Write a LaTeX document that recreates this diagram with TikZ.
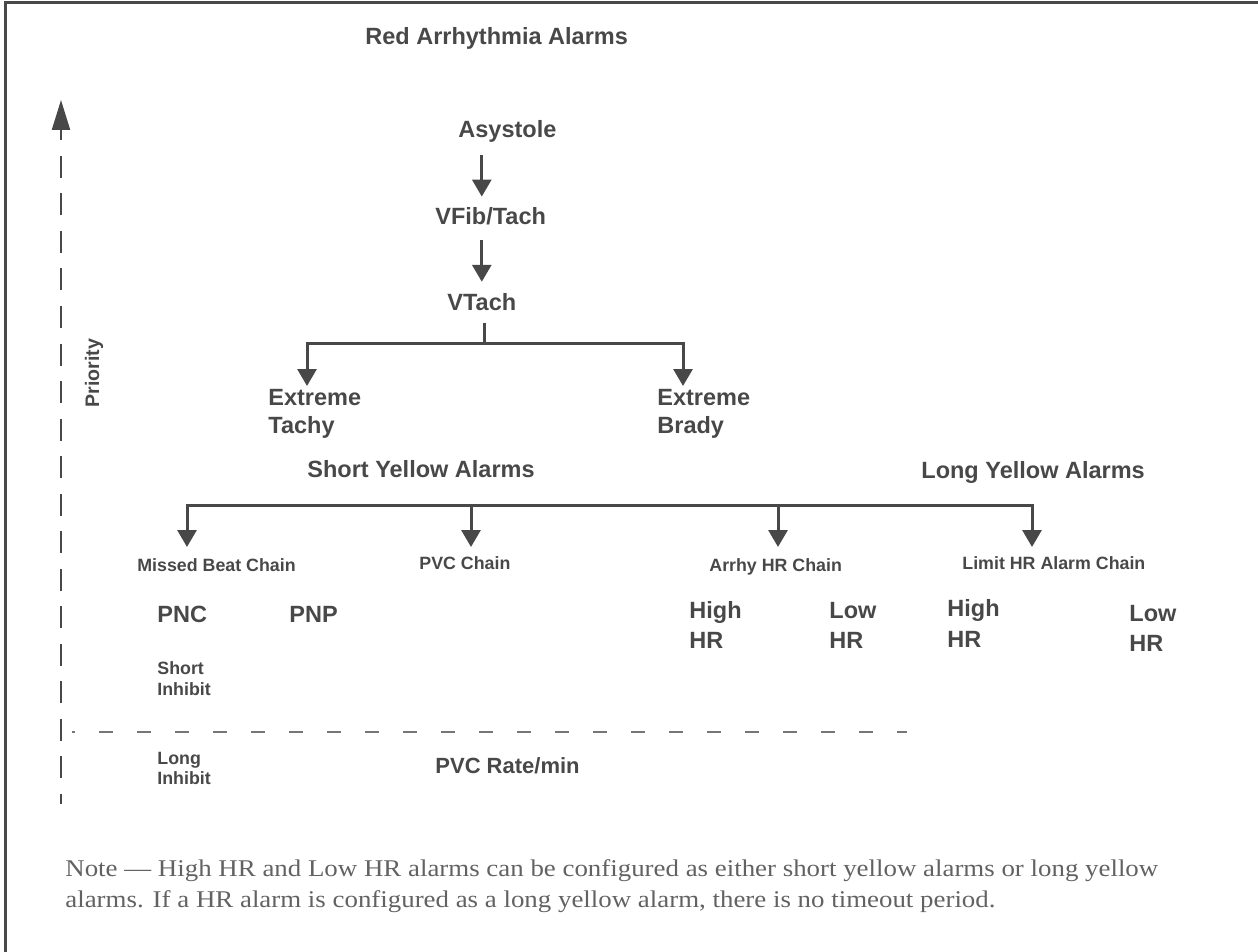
\documentclass[tikz,border=0pt]{standalone}
\usepackage{fontspec}
\setsansfont{Liberation Sans}
\newfontfamily\notefont[FakeStretch=1.12]{Liberation Serif}
\usetikzlibrary{arrows.meta}
\definecolor{ink}{RGB}{72,72,72}
\definecolor{notegray}{RGB}{98,98,98}
\tikzset{
  alarmfig/.style={x=0.5pt,y=-0.5pt},
  alarm/.style={font=\sffamily\bfseries\fontsize{11.75}{13.75}\selectfont,text=ink,inner sep=0pt,anchor=base west,align=left},
  chainlbl/.style={alarm,font=\sffamily\bfseries\fontsize{8.9}{10.5}\selectfont},
  link/.style={draw=ink,line width=1.5pt},
  arr/.style={link,-{Triangle[length=8.5pt,width=9.5pt]}},
  prioaxis/.style={draw=ink,line width=1.15pt,dash pattern=on 11pt off 7.75pt,dash phase=5.75pt,-{Triangle[length=15pt,width=9pt]}},
  rateaxis/.style={draw=ink!75,line width=1pt,dash pattern=on 7pt off 12pt,dash phase=5.5pt},
  note/.style={font=\notefont\fontsize{12}{15.5}\selectfont,text=notegray,inner sep=0pt,anchor=base west,align=left}
}

\begin{document}
\begin{tikzpicture}[alarmfig]
    \useasboundingbox (0,0) rectangle (1258,952);
    \draw[ink,line width=1.5pt] (5,952) -- (5,3) -- (1258,3);   % frame

    % axes
    \coordinate (origin) at (61,804);
    \coordinate (ytop) at (61,100);
    \coordinate (xl) at (72,732);
    \coordinate (xr) at (907,732);
    \draw[prioaxis] (origin) -- (ytop);
    \draw[rateaxis] (xl) -- (xr);
    \node[alarm,font=\sffamily\bfseries\fontsize{9.8}{12}\selectfont,rotate=90,anchor=base] (prio) at (99,373) {Priority};

    % red alarms (multi-line labels sit on their last baseline)
    \node[alarm] (red) at (365,45) {Red Arrhythmia Alarms};
    \node[alarm] (asys) at (458,138) {Asystole};
    \node[alarm] (vfib) at (435,225) {VFib/Tach};
    \node[alarm] (vtach) at (447,310) {VTach};
    \node[alarm] (etachy) at (268,433) {Extreme\\Tachy};
    \node[alarm] (ebrady) at (657,433) {Extreme\\Brady};
    \draw[arr,shorten <=6pt,shorten >=5.5pt] (asys.south -| vtach) -- (vfib.north -| vtach);
    \draw[arr,shorten <=7.3pt,shorten >=5.4pt] (vfib.south -| vtach) -- (vtach.north);
    \coordinate (rsplit) at (484,343);
    \coordinate (ltip) at (307,386);
    \coordinate (rtip) at (683,386);
    \draw[link,shorten <=6pt] (vtach.south -| rsplit) -- (rsplit);
    \draw[arr] (rsplit) -| (ltip);
    \draw[arr] (rsplit) -| (rtip);

    % yellow alarms
    \node[alarm] (sya) at (307,477) {Short Yellow Alarms};
    \node[alarm] (lya) at (921,478) {Long Yellow Alarms};
    \foreach \c/\x in {mb/187,pvc/471,ahr/778,lhr/1032} {
        \coordinate (y\c) at (\x,505);
        \coordinate (t\c) at (\x,547);
    }
    \draw[arr] (ypvc) -| (tmb);
    \draw[arr] (ypvc) -| (tlhr);
    \draw[arr] (ypvc) -- (tpvc);
    \draw[arr] (yahr) -- (tahr);

    \node[chainlbl] (mbc) at (137,571) {Missed Beat Chain};
    \node[chainlbl] (pvcc) at (419,569) {PVC Chain};
    \node[chainlbl] (ahrc) at (709,571) {Arrhy HR Chain};
    \node[chainlbl] (lhrc) at (962,569) {Limit HR Alarm Chain};

    \node[alarm] (pnc) at (157,622) {PNC};
    \node[alarm] (pnp) at (289,622) {PNP};
    \node[alarm] (ahigh) at (689,648) {High\\[1pt]HR};
    \node[alarm] (alow) at (829,648) {Low\\[1pt]HR};
    \node[alarm] (lhigh) at (947,647) {High\\[1.75pt]HR};
    \node[alarm] (llow) at (1129,651) {Low\\[1.25pt]HR};
    \node[chainlbl] (sinh) at (157,695) {Short\\Inhibit};
    \node[chainlbl] (linh) at (157,784) {Long\\[-0.5pt]Inhibit};
    \node[alarm,font=\sffamily\bfseries\fontsize{11}{13}\selectfont] (pvcr) at (435,773) {PVC Rate/min};

    \node[note] (hrnote) at (65,907) {Note — High HR and Low HR alarms can be configured as either short yellow alarms or long yellow\\alarms. If a HR alarm is configured as a long yellow alarm, there is no timeout period.};
\end{tikzpicture}
\end{document}
